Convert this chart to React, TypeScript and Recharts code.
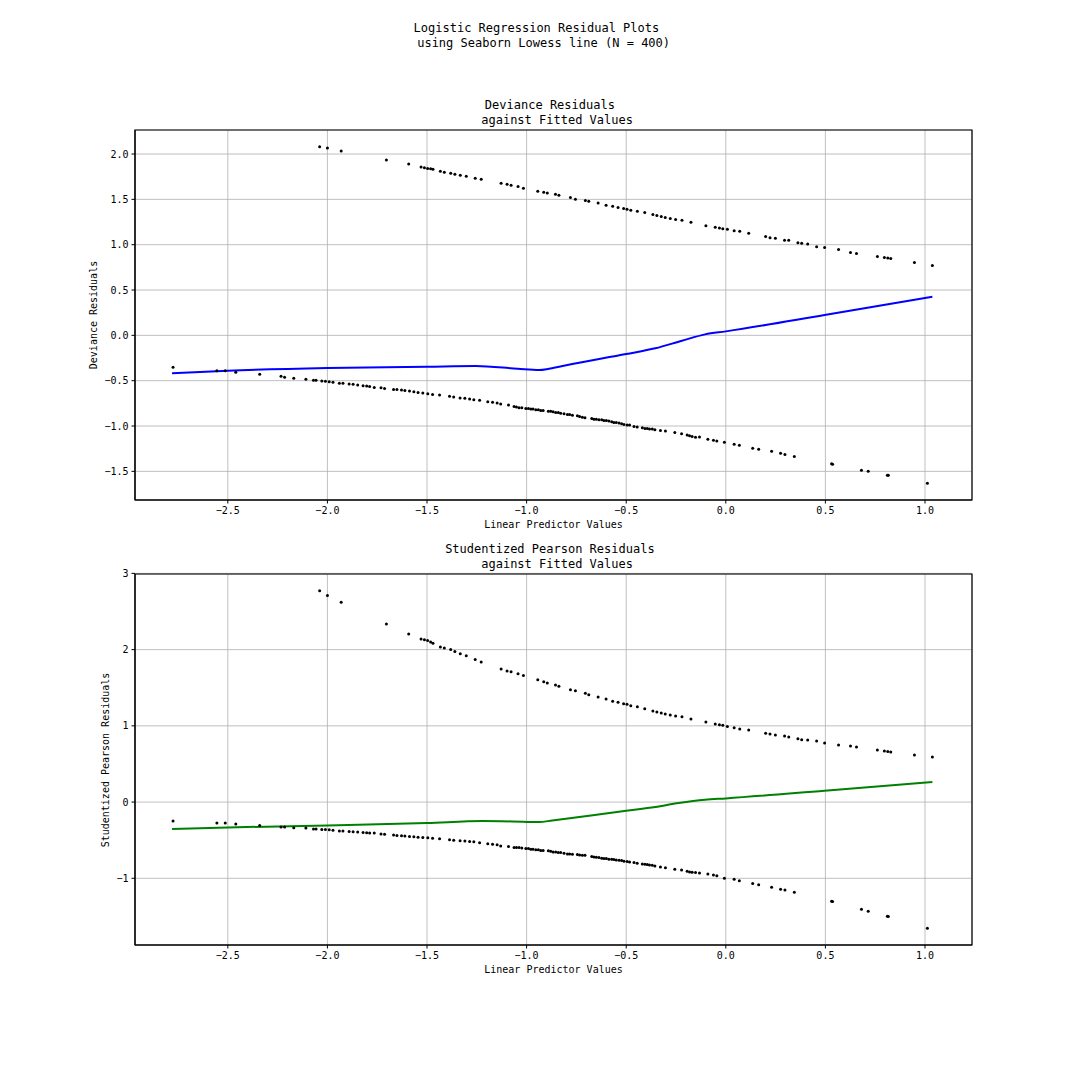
import React from 'react';
import { ComposedChart, Scatter, Line, XAxis, YAxis, CartesianGrid, ReferenceArea } from 'recharts';

const FONT = '"DejaVu Sans Mono", monospace';

// Tick values
const xTicks = [-2.5, -2, -1.5, -1, -0.5, 0, 0.5, 1];
const devTicks = [-1.5, -1, -0.5, 0, 0.5, 1, 1.5, 2];
const pearTicks = [-1, 0, 1, 2, 3];

// Fitted values (linear predictor) for the y = 1 group (upper band)
const upperX = [
  -2.039, -2.0, -1.931, -1.704, -1.592, -1.53, -1.513, -1.497, -1.482, -1.47, -1.433, -1.413, -1.381,
  -1.36, -1.333, -1.303, -1.258, -1.228, -1.128, -1.098, -1.078, -1.043, -1.016, -0.944, -0.914, -0.896,
  -0.855, -0.838, -0.78, -0.755, -0.705, -0.688, -0.641, -0.601, -0.568, -0.541, -0.513, -0.496, -0.477,
  -0.444, -0.407, -0.366, -0.346, -0.324, -0.304, -0.279, -0.252, -0.22, -0.175, -0.1, -0.053, -0.032,
  -0.015, 0.008, 0.042, 0.07, 0.115, 0.2, 0.222, 0.249, 0.295, 0.316, 0.362, 0.381, 0.411, 0.456, 0.496,
  0.566, 0.626, 0.656, 0.761, 0.796, 0.813, 0.828, 0.947, 1.037,
];
const devUpperY = [
  2.081, 2.067, 2.033, 1.933, 1.889, 1.856, 1.848, 1.841, 1.837, 1.833, 1.811, 1.8, 1.789,
  1.778, 1.767, 1.756, 1.733, 1.722, 1.678, 1.667, 1.656, 1.641, 1.622, 1.589, 1.578, 1.57,
  1.557, 1.546, 1.52, 1.502, 1.487, 1.48, 1.461, 1.435, 1.424, 1.41, 1.399, 1.391, 1.38,
  1.369, 1.354, 1.332, 1.321, 1.31, 1.299, 1.288, 1.277, 1.269, 1.247, 1.21, 1.192, 1.185,
  1.177, 1.17, 1.155, 1.148, 1.125, 1.089, 1.077, 1.07, 1.048, 1.048, 1.022, 1.015, 1.007, 0.978, 0.97,
  0.948, 0.915, 0.904, 0.871, 0.86, 0.852, 0.849, 0.804, 0.771,
];
const pearUpperY = [
  2.771, 2.709, 2.621, 2.337, 2.206, 2.14, 2.131, 2.118, 2.101, 2.083, 2.035, 2.022, 2.0,
  1.974, 1.947, 1.921, 1.869, 1.838, 1.746, 1.72, 1.711, 1.685, 1.659, 1.606, 1.58, 1.562,
  1.536, 1.519, 1.475, 1.462, 1.427, 1.409, 1.379, 1.352, 1.322, 1.309, 1.291, 1.282, 1.265,
  1.252, 1.225, 1.195, 1.182, 1.168, 1.155, 1.142, 1.129, 1.12, 1.09, 1.05, 1.024, 1.015,
  1.007, 0.993, 0.976, 0.958, 0.945, 0.902, 0.893, 0.88, 0.867, 0.853, 0.832, 0.818, 0.814, 0.801, 0.775,
  0.748, 0.735, 0.722, 0.683, 0.67, 0.665, 0.656, 0.617, 0.591,
];

// Fitted values for the y = 0 group (lower band)
const lowerX = [
  -2.775, -2.555, -2.513, -2.46, -2.34, -2.233, -2.215, -2.169, -2.108, -2.07, -2.057, -2.028, -2.01,
  -1.991, -1.972, -1.94, -1.922, -1.891, -1.871, -1.848, -1.821, -1.803, -1.788, -1.765, -1.731, -1.713,
  -1.668, -1.651, -1.628, -1.611, -1.588, -1.566, -1.545, -1.521, -1.496, -1.472, -1.437, -1.387, -1.366,
  -1.334, -1.31, -1.286, -1.265, -1.236, -1.195, -1.171, -1.148,
  -1.13, -1.091, -1.063, -1.051, -1.038, -1.024, -1.004, -0.991, -0.979, -0.968, -0.954, -0.941, -0.929,
  -0.917, -0.891, -0.879, -0.867, -0.854, -0.841, -0.829, -0.812, -0.795, -0.784, -0.77, -0.745, -0.734,
  -0.72, -0.707, -0.673, -0.662, -0.65, -0.637, -0.623, -0.612, -0.6, -0.587, -0.573, -0.562, -0.55,
  -0.536, -0.523, -0.511, -0.495, -0.483, -0.461, -0.445, -0.419, -0.406, -0.394, -0.383, -0.369, -0.356,
  -0.328, -0.303, -0.256, -0.222, -0.194, -0.182, -0.169, -0.152,
  -0.132, -0.09, -0.062, -0.045, -0.007, 0.042, 0.068, 0.135, 0.165, 0.23, 0.275, 0.297, 0.344, 0.531,
  0.536, 0.681, 0.715, 0.811, 0.816, 1.012,
];
const devLowerY = [
  -0.353, -0.39, -0.39, -0.408, -0.43, -0.452, -0.463, -0.474, -0.485, -0.496, -0.496, -0.504, -0.507,
  -0.511, -0.518, -0.529, -0.529, -0.537, -0.54, -0.548, -0.555, -0.559, -0.563, -0.574, -0.577, -0.585,
  -0.596, -0.596, -0.603, -0.607, -0.614, -0.621, -0.629, -0.636, -0.643, -0.651, -0.658, -0.673, -0.68,
  -0.691, -0.695, -0.702, -0.71, -0.717, -0.732, -0.739, -0.746,
  -0.758, -0.769, -0.784, -0.791, -0.799, -0.799, -0.806, -0.806, -0.813, -0.813, -0.821, -0.821, -0.828,
  -0.828, -0.836, -0.836, -0.843, -0.85, -0.85, -0.858, -0.865, -0.872, -0.872, -0.88, -0.887, -0.894,
  -0.902, -0.909, -0.916, -0.924, -0.924, -0.931, -0.931, -0.939, -0.939, -0.946, -0.953, -0.961, -0.961,
  -0.968, -0.975, -0.983, -0.99, -0.99, -1.005, -1.012, -1.02, -1.027, -1.027, -1.034, -1.034, -1.042,
  -1.049, -1.056, -1.071, -1.086, -1.1, -1.108, -1.115, -1.123,
  -1.121, -1.147, -1.158, -1.165, -1.18, -1.202, -1.213, -1.246, -1.257, -1.279, -1.301, -1.313, -1.335, -1.415,
  -1.423, -1.489, -1.5, -1.544, -1.544, -1.632,
];
const pearLowerY = [
  -0.249, -0.276, -0.276, -0.289, -0.306, -0.328, -0.328, -0.337, -0.341, -0.354, -0.354, -0.359, -0.361,
  -0.363, -0.37, -0.381, -0.381, -0.385, -0.389, -0.394, -0.399, -0.403, -0.405, -0.407, -0.42, -0.423,
  -0.433, -0.437, -0.442, -0.446, -0.451, -0.455, -0.46, -0.464, -0.468, -0.474, -0.481, -0.495, -0.5,
  -0.508, -0.512, -0.516, -0.522, -0.534, -0.547, -0.552, -0.56,
  -0.575, -0.583, -0.596, -0.596, -0.596, -0.601, -0.61, -0.61, -0.618, -0.618, -0.627, -0.627, -0.636,
  -0.636, -0.64, -0.645, -0.654, -0.654, -0.662, -0.662, -0.671, -0.68, -0.68, -0.684, -0.689, -0.693,
  -0.697, -0.697, -0.715, -0.719, -0.724, -0.728, -0.737, -0.741, -0.741, -0.75, -0.75, -0.754, -0.759,
  -0.763, -0.768, -0.776, -0.781, -0.785, -0.794, -0.803, -0.811, -0.816, -0.82, -0.825, -0.829, -0.838,
  -0.851, -0.86, -0.882, -0.89, -0.908, -0.917, -0.921, -0.925,
  -0.93, -0.945, -0.958, -0.967, -0.998, -1.011, -1.033, -1.068, -1.085, -1.116, -1.142, -1.155, -1.182, -1.3,
  -1.304, -1.405, -1.431, -1.497, -1.5, -1.654,
];

// Lowess curves
const devLowessX = [-2.78, -2.5, -2.0, -1.5, -1.256, -1.045, -0.937, -0.887, -0.771, -0.5, -0.354, -0.22, -0.104, 0.0, 0.496, 1.037];
const devLowessY = [-0.419, -0.39, -0.36, -0.346, -0.338, -0.368, -0.382, -0.368, -0.316, -0.206, -0.143, -0.059, 0.011, 0.044, 0.224, 0.426];
const pearLowessX = [-2.78, -2.5, -2.0, -1.5, -1.222, -1.072, -0.938, -0.871, -0.5, -0.354, -0.237, -0.104, 0.0, 0.496, 1.037];
const pearLowessY = [-0.354, -0.333, -0.306, -0.276, -0.249, -0.254, -0.263, -0.241, -0.114, -0.066, -0.013, 0.031, 0.048, 0.149, 0.263];

const zip = (xs: number[], ys: number[]) => xs.map((x, i) => ({ x, y: ys[i] }));

const minus = (s: string) => s.replace('-', '\u2212');
const fmt1 = (v: number) => minus(v.toFixed(1));
const fmt0 = (v: number) => minus(v.toFixed(0));

const Dot = (p: any) => <circle cx={p.cx} cy={p.cy} r={1.5} fill="#000" />;

const tickStyle = { fill: '#000', fontSize: 10, fontFamily: FONT };
const spine = { stroke: '#000', strokeWidth: 1 };

type PanelProps = {
  marginTop: number;
  marginBottom: number;
  yDomain: [number, number];
  yTicks: number[];
  yFmt: (v: number) => string;
  points: { x: number; y: number }[];
  lowess: { x: number; y: number }[];
  color: string;
};

function Panel(props: PanelProps) {
  const { marginTop, marginBottom, yDomain, yTicks, yFmt, points, lowess, color } = props;
  const xDomain: [number, number] = [-2.966, 1.236];
  return (
    <ComposedChart
      width={1080}
      height={540}
      margin={{ top: marginTop, right: 108, bottom: marginBottom, left: 75 }}
    >
      <CartesianGrid stroke="#b0b0b0" strokeWidth={0.8} />
      <XAxis
        dataKey="x"
        type="number"
        domain={xDomain}
        ticks={xTicks}
        tickFormatter={fmt1}
        allowDataOverflow
        height={30}
        tickSize={3.5}
        tickMargin={3}
        tick={tickStyle}
        stroke="#000"
        axisLine={spine}
        tickLine={{ stroke: '#000' }}
      />
      <YAxis
        dataKey="y"
        type="number"
        domain={yDomain}
        ticks={yTicks}
        tickFormatter={yFmt}
        allowDataOverflow
        width={60}
        tickSize={3.5}
        tickMargin={3}
        tick={tickStyle}
        stroke="#000"
        axisLine={spine}
        tickLine={{ stroke: '#000' }}
      />
      <Scatter data={points} dataKey="y" shape={Dot} isAnimationActive={false} />
      <Line
        data={lowess}
        dataKey="y"
        type="monotone"
        stroke={color}
        strokeWidth={2}
        dot={false}
        activeDot={false}
        isAnimationActive={false}
      />
      <ReferenceArea
        x1={xDomain[0]}
        x2={xDomain[1]}
        y1={yDomain[0]}
        y2={yDomain[1]}
        fill="none"
        fillOpacity={0}
        stroke="#000"
        strokeWidth={1.2}
        ifOverflow="visible"
      />
    </ComposedChart>
  );
}

const txt = (
  text: string,
  cx: number,
  cy: number,
  size: number,
  rotate = false
) => (
  <div
    style={{
      position: 'absolute',
      left: cx,
      top: cy,
      transform: rotate ? 'translate(-50%, -50%) rotate(-90deg)' : 'translate(-50%, -50%)',
      whiteSpace: 'pre',
      fontSize: size,
      fontFamily: FONT,
      lineHeight: `${size + 2}px`,
      color: '#000',
    }}
  >
    {text}
  </div>
);

export default function App() {
  const devPoints = [...zip(upperX, devUpperY), ...zip(lowerX, devLowerY)];
  const pearPoints = [...zip(upperX, pearUpperY), ...zip(lowerX, pearLowerY)];
  return (
    <div
      style={{
        position: 'absolute',
        left: 0,
        top: 0,
        width: 1080,
        height: 1080,
        background: '#fff',
        overflow: 'hidden',
      }}
    >
      <div style={{ position: 'absolute', left: 0, top: 0, width: 1080, height: 540 }}>
        <Panel
          marginTop={130}
          marginBottom={10}
          yDomain={[-1.816, 2.265]}
          yTicks={devTicks}
          yFmt={fmt1}
          points={devPoints}
          lowess={zip(devLowessX, devLowessY)}
          color="#0000ff"
        />
      </div>
      <div style={{ position: 'absolute', left: 0, top: 540, width: 1080, height: 540 }}>
        <Panel
          marginTop={34}
          marginBottom={105}
          yDomain={[-1.875, 2.992]}
          yTicks={pearTicks}
          yFmt={fmt0}
          points={pearPoints}
          lowess={zip(pearLowessX, pearLowessY)}
          color="#008000"
        />
      </div>
      {txt('Logistic Regression Residual Plots ', 540, 28, 12)}
      {txt(' using Seaborn Lowess line (N = 400)', 540, 43, 12)}
      {txt('Deviance Residuals ', 553.5, 105, 12)}
      {txt(' against Fitted Values', 553.5, 119.5, 12)}
      {txt('Studentized Pearson Residuals ', 553.5, 549, 12)}
      {txt(' against Fitted Values', 553.5, 563.5, 12)}
      {txt('Linear Predictor Values', 553.5, 525, 10)}
      {txt('Linear Predictor Values', 553.5, 970, 10)}
      {txt('Deviance Residuals', 94, 315, 10, true)}
      {txt('Studentized Pearson Residuals', 106, 759.5, 10, true)}
    </div>
  );
}
